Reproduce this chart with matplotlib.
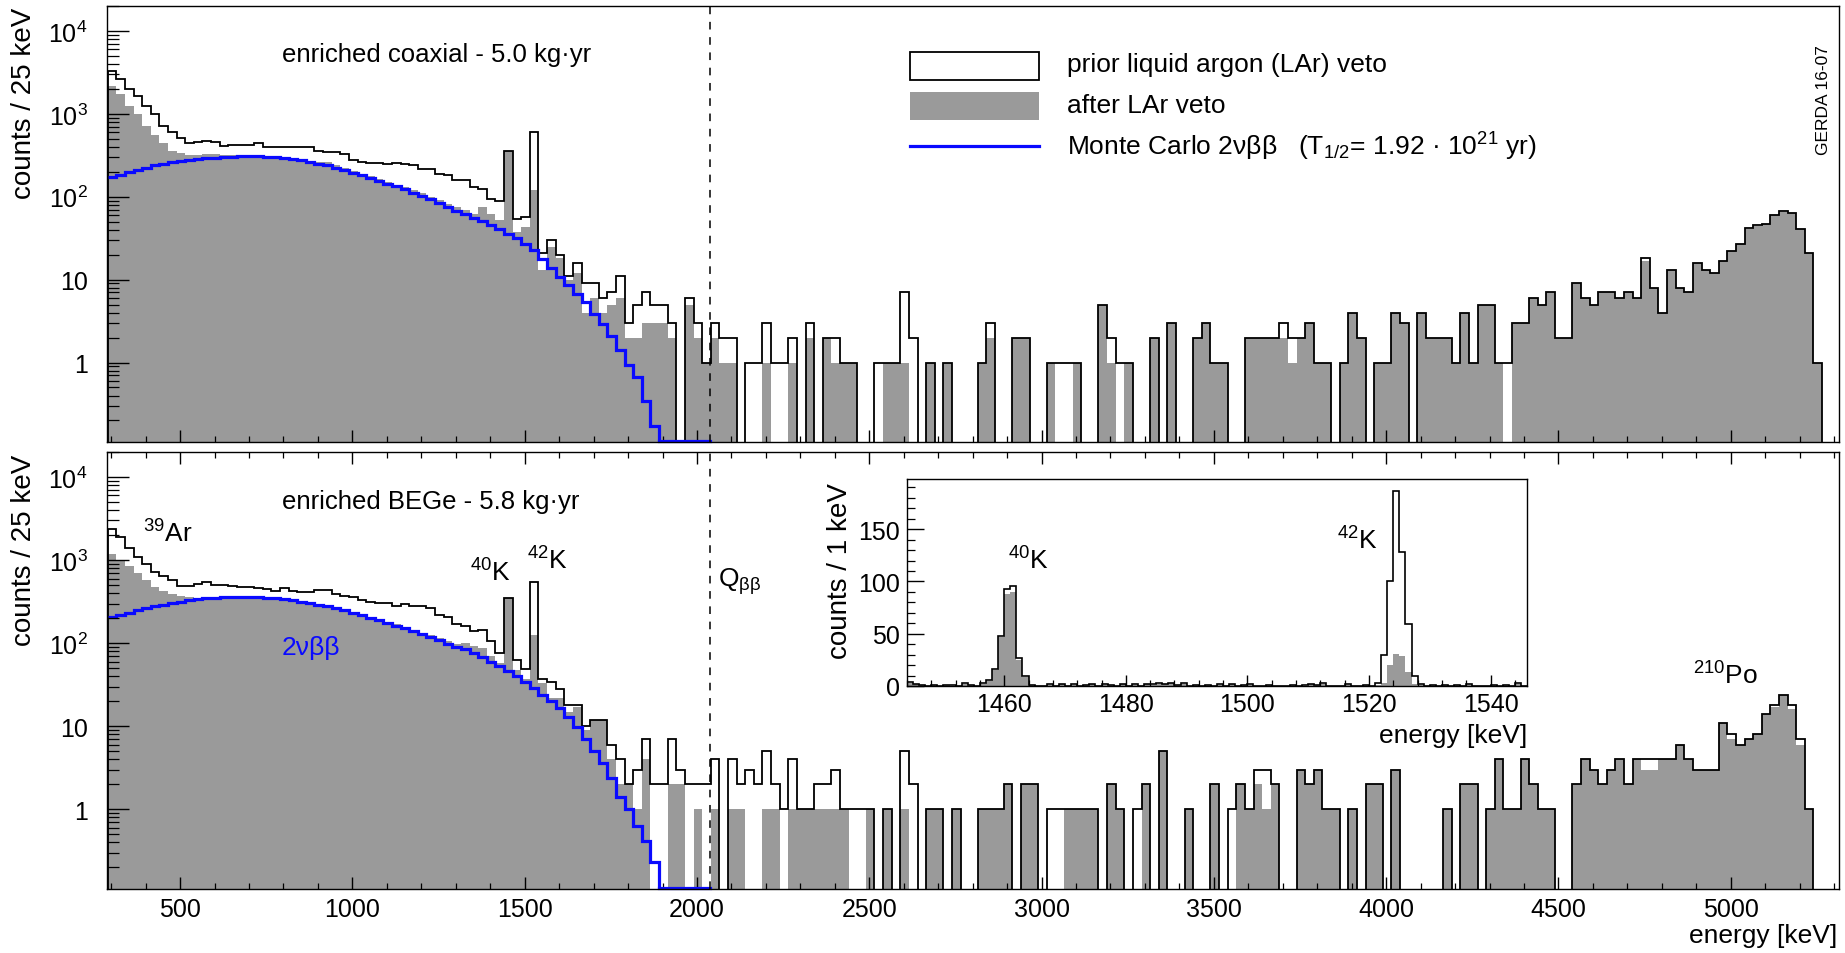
import numpy as np
import matplotlib
matplotlib.use("Agg")
import matplotlib.pyplot as plt
from matplotlib.patches import Rectangle
from matplotlib.lines import Line2D
from matplotlib.ticker import FixedLocator, FixedFormatter, MultipleLocator, LogLocator, NullFormatter

plt.rcParams['font.family'] = ['Liberation Sans', 'DejaVu Sans']
plt.rcParams['mathtext.fontset'] = 'custom'
plt.rcParams['mathtext.rm'] = 'Liberation Sans'
plt.rcParams['mathtext.it'] = 'Liberation Sans:italic'
plt.rcParams['mathtext.bf'] = 'Liberation Sans:bold'

# binning of the main spectra (keV)
BIN_START = 290
BIN_WIDTH = 25
Q_BB = 2039

# enriched coaxial, counts / 25 keV
coax_prior = [3300, 2600, 2000, 1650, 1250, 1000, 720, 600, 510, 450,
              455, 465, 455, 410, 420, 420, 425, 450, 400, 395,
              395, 400, 400, 395, 360, 350, 350, 330, 275, 265,
              255, 255, 250, 252, 245, 240, 218, 215, 190, 185,
              160, 158, 130, 125, 95, 90, 360, 54, 57, 610,
              21, 30, 20, 11, 16, 9, 9, 6, 7, 11,
              3, 5, 7, 5, 5, 3, 0, 6, 3, 1,
              3, 2, 2, 0, 1, 1, 3, 1, 1, 2,
              0, 3, 0, 2, 2, 1, 1, 0, 0, 1,
              1, 1, 7, 2, 0, 1, 0, 1, 0, 0,
              0, 1, 3, 0, 0, 2, 2, 0, 0, 1,
              1, 1, 1, 0, 0, 5, 2, 1, 1, 0,
              0, 2, 0, 3, 0, 0, 2, 3, 1, 1,
              0, 0, 2, 2, 2, 2, 3, 2, 2, 3,
              1, 1, 0, 1, 4, 2, 0, 1, 1, 4,
              3, 0, 4, 2, 2, 2, 1, 4, 1, 5,
              5, 1, 1, 3, 3, 6, 5, 7, 2, 2,
              9, 6, 5, 7, 7, 6, 7, 6, 18, 8,
              4, 13, 8, 7, 16, 13, 12, 17, 22, 27,
              42, 45, 47, 61, 67, 63, 41, 21, 1]
coax_after = [2150, 1750, 1260, 1000, 720, 550, 450, 360, 340, 315,
              320, 325, 330, 320, 315, 310, 312, 312, 305, 300,
              298, 292, 282, 270, 265, 262, 242, 225, 202, 190,
              176, 162, 150, 140, 130, 122, 112, 100, 92, 82,
              76, 70, 62, 75, 62, 52, 360, 38, 43, 120,
              13, 25, 18, 10, 12, 4, 6, 4, 5, 6,
              2, 2, 3, 3, 3, 2, 0, 5, 2, 1,
              2, 1, 1, 0, 0, 0, 1, 0, 0, 1,
              0, 2, 0, 2, 1, 1, 1, 0, 0, 0,
              1, 1, 1, 0, 0, 1, 0, 1, 0, 0,
              0, 1, 2, 0, 0, 2, 2, 0, 0, 1,
              0, 0, 1, 0, 0, 5, 1, 0, 1, 0,
              0, 2, 0, 3, 0, 0, 2, 3, 1, 1,
              0, 0, 2, 2, 2, 2, 2, 1, 2, 3,
              1, 1, 0, 1, 4, 2, 0, 1, 1, 4,
              3, 0, 4, 2, 2, 2, 1, 4, 1, 5,
              5, 1, 0, 3, 3, 6, 5, 7, 2, 2,
              9, 6, 5, 7, 7, 6, 7, 6, 17, 8,
              4, 13, 8, 7, 16, 13, 12, 17, 22, 27,
              41, 44, 47, 60, 66, 63, 41, 21, 1]
coax_mc = [173, 181, 198, 210, 224, 239, 250, 262, 272, 279,
           287, 291, 297, 302, 304, 307, 307, 307, 304, 300,
           295, 287, 275, 262, 250, 239, 224, 208, 195, 181,
           168, 156, 144, 133, 123, 112, 102, 93, 85, 76,
           68, 62, 56, 51, 46, 41, 36, 32, 27, 22.5,
           17.5, 13.8, 10.8, 8.5, 6.8, 5.3, 3.9, 2.95, 2.1, 1.4,
           0.93, 0.67, 0.34, 0.17]

# enriched BEGe, counts / 25 keV
bege_prior = [2400, 1900, 1380, 1100, 890, 710, 650, 575, 490, 490,
              510, 550, 500, 500, 490, 480, 470, 458, 450, 425,
              458, 425, 408, 415, 435, 440, 390, 372, 355, 333,
              310, 303, 303, 283, 300, 283, 283, 262, 218, 204,
              170, 160, 140, 145, 107, 77, 350, 63, 49, 540,
              37, 34, 28, 18, 18, 10, 12, 12, 6, 4,
              2, 3, 7, 2, 2, 7, 3, 2, 2, 2,
              4, 0, 4, 2, 3, 2, 5, 2, 1, 4,
              1, 1, 2, 2, 3, 1, 1, 1, 1, 0,
              1, 0, 5, 2, 0, 1, 1, 0, 1, 0,
              0, 1, 1, 1, 2, 0, 2, 2, 0, 1,
              1, 1, 1, 1, 1, 0, 2, 1, 0, 1,
              2, 0, 5, 0, 0, 1, 0, 0, 2, 0,
              1, 2, 1, 3, 3, 2, 0, 0, 3, 2,
              3, 1, 1, 0, 1, 0, 2, 2, 0, 3,
              0, 0, 0, 0, 0, 1, 0, 2, 2, 0,
              1, 4, 1, 1, 4, 2, 1, 1, 0, 0,
              2, 4, 3, 2, 3, 4, 2, 4, 4, 4,
              4, 4, 6, 4, 3, 3, 3, 11, 8, 6,
              7, 8, 14, 18, 24, 18, 7, 1, 0]
bege_after = [1180, 1000, 850, 700, 580, 470, 420, 390, 370, 355,
              350, 355, 360, 362, 365, 365, 365, 362, 358, 350,
              342, 335, 322, 310, 300, 285, 268, 255, 238, 222,
              208, 195, 182, 168, 157, 145, 134, 125, 116, 105,
              97, 100, 92, 88, 70, 58, 350, 48, 37, 125,
              33, 22, 22, 15, 17, 9, 12, 12, 4, 2,
              2, 1, 4, 0, 0, 2, 2, 0, 1, 0,
              1, 0, 1, 1, 0, 0, 1, 1, 0, 1,
              1, 1, 1, 1, 1, 1, 0, 0, 1, 0,
              1, 0, 1, 0, 0, 1, 1, 0, 1, 0,
              0, 1, 1, 1, 2, 0, 2, 2, 0, 0,
              0, 1, 1, 1, 1, 0, 2, 1, 0, 0,
              2, 0, 5, 0, 0, 1, 0, 0, 2, 0,
              0, 2, 1, 2, 1, 2, 0, 0, 3, 2,
              3, 1, 1, 0, 1, 0, 2, 2, 0, 3,
              0, 0, 0, 0, 0, 1, 0, 2, 2, 0,
              1, 4, 1, 1, 4, 2, 1, 1, 0, 0,
              2, 4, 3, 2, 3, 4, 2, 4, 3, 3,
              4, 4, 6, 4, 3, 3, 3, 11, 7, 6,
              7, 8, 14, 17, 24, 16, 6, 1, 0]
bege_mc = [207, 219, 234, 250, 265, 279, 292, 306, 317, 330,
           338, 347, 354, 358, 362, 362, 362, 358, 354, 347,
           338, 330, 317, 303, 290, 277, 262, 249, 233, 217,
           203, 189, 176, 163, 152, 139, 129, 118, 109, 99,
           90, 84, 76, 68, 60, 53, 46, 40, 34, 29,
           24, 20, 16.5, 13, 9.8, 7, 5.1, 3.6, 2.4, 1.4,
           1.0, 0.63, 0.42, 0.23]

# inset: counts / 1 keV from 1444 keV
INSET_START = 1444
inset_prior = [4, 2, 1, 0, 1, 0, 1, 1, 0, 3,
               1, 0, 3, 6, 16, 48, 93, 96, 27, 10,
               1, 0, 0, 2, 0, 2, 0, 2, 0, 1,
               2, 0, 2, 1, 0, 2, 0, 2, 0, 2,
               2, 3, 2, 3, 1, 3, 0, 1, 0, 1,
               0, 2, 0, 2, 0, 1, 2, 0, 0, 1,
               0, 0, 0, 1, 0, 1, 2, 1, 3, 0,
               0, 0, 2, 0, 0, 1, 0, 3, 30, 100,
               187, 128, 59, 10, 2, 0, 1, 0, 1, 0,
               1, 0, 2, 0, 0, 0, 1, 0, 1, 0,
               3, 0]
inset_after = [3, 2, 1, 0, 1, 0, 1, 0, 0, 2,
               1, 0, 2, 5, 15, 47, 88, 90, 25, 9,
               1, 0, 0, 1, 0, 2, 0, 1, 0, 1,
               2, 0, 1, 1, 0, 2, 0, 1, 0, 2,
               1, 2, 2, 3, 1, 2, 0, 1, 0, 1,
               0, 1, 0, 2, 0, 1, 1, 0, 0, 1,
               0, 0, 0, 1, 0, 0, 2, 1, 2, 0,
               0, 0, 1, 0, 0, 1, 0, 1, 3, 20,
               31, 29, 13, 2, 1, 0, 1, 0, 1, 0,
               1, 0, 1, 0, 0, 0, 1, 0, 1, 0,
               2, 0]

GRAY = "#9a9a9a"
BLUE = "#0a0aff"
W, H = 1845, 954
FLOOR = 1e-3


def px(x, y):
    return x / W, 1 - y / H


def draw_panel(ax, prior, after, mc):
    prior = np.asarray(prior, float)
    after = np.asarray(after, float)
    mc = np.asarray(mc, float)
    edges = BIN_START + BIN_WIDTH * np.arange(len(prior) + 1)
    mc_edges = BIN_START + BIN_WIDTH * np.arange(len(mc) + 1)
    ax.set_yscale("log")
    ax.stairs(np.where(after > 0, after, FLOOR), edges, baseline=FLOOR,
              fill=True, color=GRAY, lw=0)
    ax.stairs(np.where(prior > 0, prior, FLOOR), edges, baseline=FLOOR,
              color="black", lw=1.3)
    ax.stairs(np.append(mc, FLOOR), np.append(mc_edges, mc_edges[-1] + BIN_WIDTH),
              baseline=None, color=BLUE, lw=2.3)
    # MC tail sits on the lower frame up to Q_bb
    ax.plot([mc_edges[-1], Q_BB], [0.112, 0.112], color=BLUE, lw=2.3, clip_on=False)
    ax.axvline(Q_BB, color="black", lw=1.1, ls=(0, (5, 5)))
    ax.set_xlim(288, 5314)
    ax.set_ylim(0.11, 2e4)
    ax.yaxis.set_major_locator(FixedLocator([1, 10, 100, 1e3, 1e4]))
    ax.yaxis.set_major_formatter(FixedFormatter(["1", "10", "$10^{2}$", "$10^{3}$", "$10^{4}$"]))
    ax.yaxis.set_minor_locator(LogLocator(base=10, subs=np.arange(2, 10), numticks=20))
    ax.yaxis.set_minor_formatter(NullFormatter())
    ax.xaxis.set_major_locator(MultipleLocator(500))
    ax.xaxis.set_minor_locator(MultipleLocator(100))
    ax.tick_params(axis="y", which="major", direction="in", length=16, width=1,
                   labelsize=18, pad=14)
    ax.tick_params(axis="y", which="minor", direction="in", length=8.5, width=0.9)
    ax.tick_params(axis="x", which="major", direction="in", length=8.5, width=1,
                   labelsize=18, pad=6)
    ax.tick_params(axis="x", which="minor", direction="in", length=4.5, width=0.9)
    for s in ax.spines.values():
        s.set_linewidth(1.0)


fig = plt.figure(figsize=(W / 100, H / 100), dpi=100)

ax_top = fig.add_axes([107 / W, 1 - 443 / H, (1839 - 107) / W, (443 - 7) / H])
draw_panel(ax_top, coax_prior, coax_after, coax_mc)
ax_top.tick_params(axis="x", labelbottom=False)

ax_bot = fig.add_axes([107 / W, 1 - 890 / H, (1839 - 107) / W, (890 - 453) / H])
draw_panel(ax_bot, bege_prior, bege_after, bege_mc)
ax_bot.tick_params(axis="x", which="both", top=True)

# axis titles
fig.text(*px(24, 8), "counts / 25 keV", rotation=90, ha="center", va="top", fontsize=20)
fig.text(*px(24, 455), "counts / 25 keV", rotation=90, ha="center", va="top", fontsize=20)
fig.text(*px(1837, 943), "energy [keV]", ha="right", va="baseline", fontsize=19)

# panel labels
fig.text(*px(282, 55), "enriched coaxial - 5.0 kg\u00b7yr", ha="left", va="center", fontsize=18.5)
fig.text(*px(282, 502), "enriched BEGe - 5.8 kg\u00b7yr", ha="left", va="center", fontsize=18.5)
fig.text(*px(1823, 100), "GERDA 16-07", rotation=90, ha="center", va="center", fontsize=12.5)

# peak annotations
fig.text(*px(143, 543), "$^{39}$Ar", ha="left", va="baseline", fontsize=19)
fig.text(*px(470, 582), "$^{40}$K", ha="left", va="baseline", fontsize=19)
fig.text(*px(527, 570), "$^{42}$K", ha="left", va="baseline", fontsize=19)
fig.text(*px(718, 587), "Q$_{\\rm \u03b2\u03b2}$", ha="left", va="baseline", fontsize=19)
fig.text(*px(282, 655), "2\u03bd\u03b2\u03b2", ha="left", va="baseline", fontsize=19, color=BLUE)
fig.text(*px(1693, 685), "$^{210}$Po", ha="left", va="baseline", fontsize=19)

# legend
fig.patches.append(Rectangle(px(910, 81), 129 / W, 28 / H, transform=fig.transFigure,
                             facecolor="white", edgecolor="black", lw=1.3))
fig.patches.append(Rectangle(px(910, 121), 129 / W, 28 / H, transform=fig.transFigure,
                             facecolor=GRAY, edgecolor="none"))
fig.lines.append(Line2D([910 / W, 1039 / W], [1 - 147 / H, 1 - 147 / H],
                        transform=fig.transFigure, color=BLUE, lw=2.3))
fig.text(*px(1067, 65), "prior liquid argon (LAr) veto", ha="left", va="center", fontsize=19)
fig.text(*px(1067, 106), "after LAr veto", ha="left", va="center", fontsize=19)
fig.text(*px(1067, 147), "Monte Carlo 2\u03bd\u03b2\u03b2   (T$_{1/2}$= 1.92 \u00b7 10$^{21}$ yr)",
         ha="left", va="center", fontsize=19)

# inset with the potassium lines, 1 keV bins
ax_in = fig.add_axes([907 / W, 1 - 687 / H, (1527 - 907) / W, (687 - 480) / H])
in_edges = INSET_START + np.arange(len(inset_prior) + 1)
ax_in.stairs(inset_after, in_edges, baseline=0, fill=True, color=GRAY, lw=0)
ax_in.stairs(inset_prior, in_edges, baseline=0, color="black", lw=1.2)
ax_in.set_xlim(1444, 1546)
ax_in.set_ylim(0, 198)
ax_in.xaxis.set_major_locator(MultipleLocator(20))
ax_in.xaxis.set_minor_locator(MultipleLocator(4))
ax_in.yaxis.set_major_locator(MultipleLocator(50))
ax_in.yaxis.set_minor_locator(MultipleLocator(10))
ax_in.tick_params(which="major", direction="in", length=12, width=1, labelsize=18, pad=5)
ax_in.tick_params(which="minor", direction="in", length=6, width=0.9)
ax_in.tick_params(axis="x", which="major", length=8, pad=4)
ax_in.tick_params(axis="x", which="minor", length=4)
for s in ax_in.spines.values():
    s.set_linewidth(1.0)
fig.text(*px(840, 483), "counts / 1 keV", rotation=90, ha="center", va="top", fontsize=20)
fig.text(*px(1527, 743), "energy [keV]", ha="right", va="baseline", fontsize=19)
fig.text(*px(1008, 570), "$^{40}$K", ha="left", va="baseline", fontsize=19)
fig.text(*px(1337, 550), "$^{42}$K", ha="left", va="baseline", fontsize=19)

fig.savefig("out.png", dpi=100)
